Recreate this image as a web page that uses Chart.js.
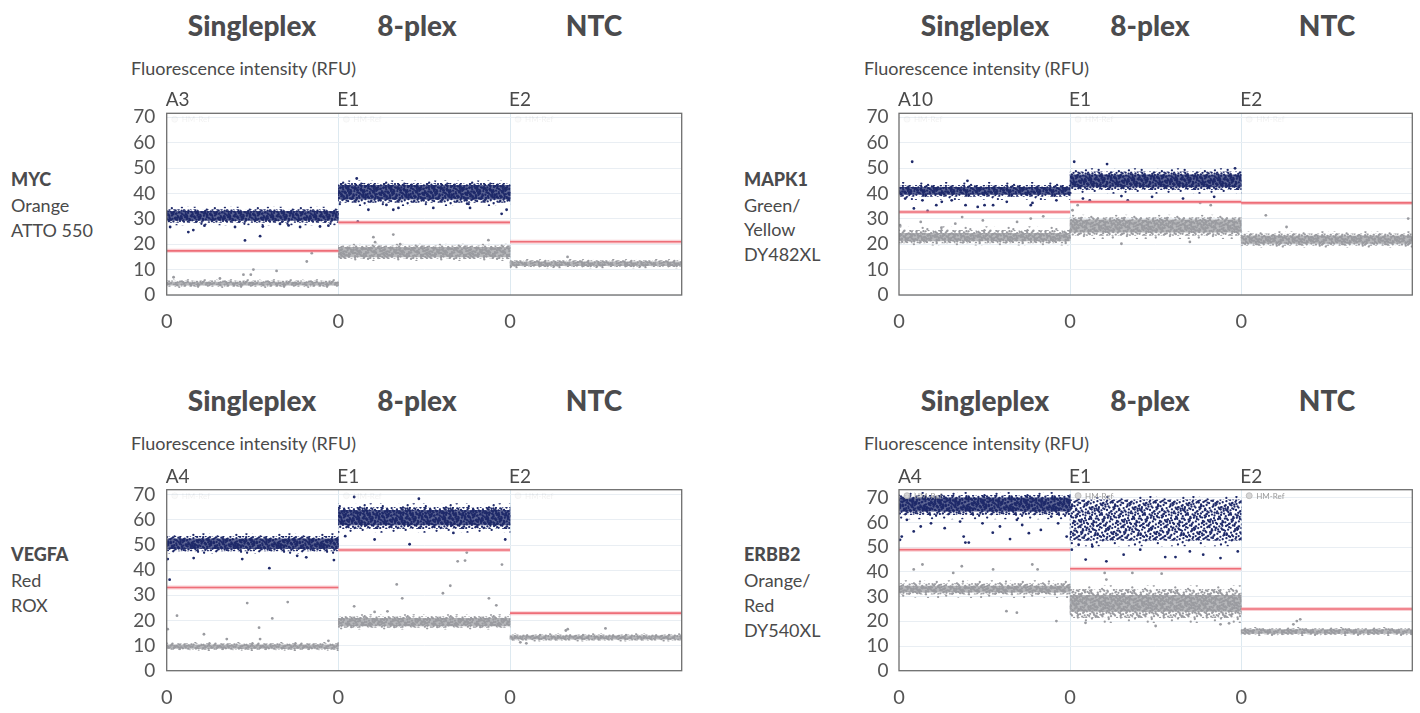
<!DOCTYPE html>
<html>
<head>
<meta charset="utf-8">
<title>Droplet fluorescence – MYC, MAPK1, VEGFA, ERBB2</title>
<script src="https://cdn.jsdelivr.net/npm/chart.js@4.4.1/dist/chart.umd.min.js"></script>
<style>
  html, body { margin: 0; padding: 0; background: #fff; }
  body { width: 1420px; height: 713px; position: relative; overflow: hidden;
         font-family: Lato, "Open Sans", "DejaVu Sans", sans-serif; color: #4a4a4c; }
  .t { position: absolute; white-space: nowrap; line-height: 1; transform: translateY(-50%); }
  .title { font-weight: 900; font-size: 28px; transform: translate(-50%, -50%); color: #4b4b4d; }
  .axis { font-size: 18px; color: #4a4a4a; }
  .well { font-size: 19px; color: #4a4a4a; }
  .gene { font-size: 18px; font-weight: 900; color: #4b4b4d; }
  .dye { font-size: 18px; color: #4a4a4a; }
  canvas { position: absolute; }
</style>
</head>
<body>

<!-- column headings -->
<div class="t title" style="left:252px;top:25px">Singleplex</div>
<div class="t title" style="left:417px;top:25px">8-plex</div>
<div class="t title" style="left:594px;top:25px">NTC</div>
<div class="t title" style="left:985px;top:25px">Singleplex</div>
<div class="t title" style="left:1150px;top:25px">8-plex</div>
<div class="t title" style="left:1327px;top:25px">NTC</div>
<div class="t title" style="left:252px;top:400px">Singleplex</div>
<div class="t title" style="left:417px;top:400px">8-plex</div>
<div class="t title" style="left:594px;top:400px">NTC</div>
<div class="t title" style="left:985px;top:400px">Singleplex</div>
<div class="t title" style="left:1150px;top:400px">8-plex</div>
<div class="t title" style="left:1327px;top:400px">NTC</div>

<!-- axis titles -->
<div class="t axis" style="left:131px;top:68px">Fluorescence intensity (RFU)</div>
<div class="t axis" style="left:864px;top:68px">Fluorescence intensity (RFU)</div>
<div class="t axis" style="left:131px;top:443px">Fluorescence intensity (RFU)</div>
<div class="t axis" style="left:864px;top:443px">Fluorescence intensity (RFU)</div>

<!-- target / channel / dye -->
<div class="t gene" style="left:11px;top:179px">MYC</div>
<div class="t dye" style="left:11px;top:205px">Orange</div>
<div class="t dye" style="left:11px;top:230px">ATTO 550</div>

<div class="t gene" style="left:744px;top:179px">MAPK1</div>
<div class="t dye" style="left:744px;top:205px">Green/</div>
<div class="t dye" style="left:744px;top:229px">Yellow</div>
<div class="t dye" style="left:744px;top:254px">DY482XL</div>

<div class="t gene" style="left:11px;top:554px">VEGFA</div>
<div class="t dye" style="left:11px;top:580px">Red</div>
<div class="t dye" style="left:11px;top:605px">ROX</div>

<div class="t gene" style="left:744px;top:554px">ERBB2</div>
<div class="t dye" style="left:744px;top:580px">Orange/</div>
<div class="t dye" style="left:744px;top:605px">Red</div>
<div class="t dye" style="left:744px;top:630px">DY540XL</div>

<canvas id="myc"></canvas>
<canvas id="mapk1"></canvas>
<canvas id="vegfa"></canvas>
<canvas id="erbb2"></canvas>

<script>
// ---------------------------------------------------------------------------
// Shared axis values
// ---------------------------------------------------------------------------
const RFU_TICKS = [0, 10, 20, 30, 40, 50, 60, 70];
const DROPLET_TICK_LABELS = ['0', '0', '0'];

// Droplet clusters are given per well as density zones (RFU):
// [outerLow, midLow, coreLow, coreHigh, midHigh, outerHigh]; null = no cluster.
// Rain droplets (between/away from the clusters) are [well position, RFU].

// ---------------------------------------------------------------------------
// MYC – Orange – ATTO 550
// ---------------------------------------------------------------------------
const MYC_WELLS = ['A3', 'E1', 'E2'];
const MYC_THRESHOLDS = [17.4, 28.6, 21.0];
const MYC_POSITIVE = [
  [27.6, 28.6, 29.4, 33.0, 33.7, 34.6],
  [35.2, 36.5, 37.8, 43.2, 44.0, 45.0],
  null
];
const MYC_NEGATIVE = [
  [2.9, 3.4, 3.9, 5.1, 5.6, 6.1],
  [13.5, 14.3, 15.0, 18.8, 19.4, 20.1],
  [10.7, 11.2, 11.6, 13.1, 13.6, 14.1]
];
const MYC_POSITIVE_RAIN = [
  [0.02, 26.8], [0.126, 24.8], [0.155, 25.6], [0.22, 27.3], [0.398, 26.8], [0.456, 21.5],
  [0.544, 23.2], [0.56, 27.0], [0.66, 28.0], [0.71, 27.4], [0.777, 26.8], [0.893, 27.0], [0.942, 27.3],
  [1.107, 45.9], [1.113, 28.9], [1.175, 33.6], [1.28, 35.5], [1.32, 33.6], [1.35, 34.3],
  [1.553, 34.3], [1.75, 36.0], [1.767, 34.3], [1.951, 32.0], [1.98, 33.6]
];
const MYC_NEGATIVE_RAIN = [
  [0.04, 7.0], [0.31, 6.5], [0.447, 8.0], [0.49, 8.0], [0.505, 10.0], [0.64, 9.5],
  [0.816, 13.2], [0.845, 16.5],
  [1.204, 22.8], [1.214, 20.8], [1.32, 23.8], [1.36, 20.0], [1.874, 21.6],
  [2.335, 15.0]
];

// ---------------------------------------------------------------------------
// MAPK1 – Green/Yellow – DY482XL
// ---------------------------------------------------------------------------
const MAPK1_WELLS = ['A10', 'E1', 'E2'];
const MAPK1_THRESHOLDS = [32.7, 36.7, 36.3];
const MAPK1_POSITIVE = [
  [37.6, 38.8, 39.6, 42.4, 43.2, 44.4],
  [40.0, 41.5, 42.6, 47.4, 48.5, 49.8],
  null
];
const MAPK1_NEGATIVE = [
  [19.6, 20.5, 21.3, 24.3, 25.5, 27.0],
  [22.2, 23.5, 24.8, 29.6, 30.5, 31.5],
  [18.7, 19.5, 20.3, 23.3, 24.1, 25.0]
];
const MAPK1_POSITIVE_RAIN = [
  [0.036, 38.0], [0.077, 52.5], [0.087, 34.1], [0.137, 37.3], [0.167, 33.1], [0.218, 35.4],
  [0.25, 36.7], [0.308, 37.3], [0.389, 35.4], [0.40, 45.0], [0.46, 34.7], [0.50, 35.4],
  [0.55, 35.4], [0.63, 36.7], [0.77, 35.4], [0.78, 36.3], [0.92, 37.3],
  [1.024, 52.5], [1.075, 38.0], [1.115, 37.3], [1.216, 51.6], [1.30, 39.0], [1.337, 37.3],
  [1.479, 38.7], [1.66, 38.0], [1.842, 38.7], [1.964, 49.9]
];
const MAPK1_NEGATIVE_RAIN = [
  [0.006, 27.5], [0.127, 28.8], [0.248, 26.5], [0.329, 28.1], [0.369, 30.7], [0.49, 29.4],
  [0.69, 28.8], [0.77, 30.1], [0.843, 31.0],
  [1.014, 33.4], [1.044, 35.4], [1.30, 20.2], [1.70, 20.9], [1.76, 36.3], [1.822, 35.4],
  [2.144, 31.4], [2.265, 26.8], [2.976, 30.1]
];

// ---------------------------------------------------------------------------
// VEGFA – Red – ROX
// ---------------------------------------------------------------------------
const VEGFA_WELLS = ['A4', 'E1', 'E2'];
const VEGFA_THRESHOLDS = [33.1, 48.0, 22.9];
const VEGFA_POSITIVE = [
  [46.6, 47.6, 48.5, 52.5, 53.5, 54.5],
  [55.0, 56.5, 58.0, 63.8, 65.0, 66.5],
  null
];
const VEGFA_NEGATIVE = [
  [8.0, 8.5, 8.9, 10.3, 10.8, 11.3],
  [16.5, 17.2, 17.8, 20.8, 21.5, 22.3],
  [11.7, 12.1, 12.5, 13.9, 14.3, 14.8]
];
const VEGFA_POSITIVE_RAIN = [
  [0.006, 44.4], [0.017, 36.2], [0.157, 44.8], [0.44, 44.4], [0.598, 40.8], [0.76, 45.7],
  [0.813, 45.1], [0.974, 44.0],
  [1.04, 53.5], [1.092, 69.1], [1.211, 52.2], [1.415, 50.3], [1.469, 68.4], [1.67, 54.8],
  [1.972, 52.2]
];
const VEGFA_NEGATIVE_RAIN = [
  [0.006, 16.5], [0.06, 21.9], [0.217, 14.5], [0.35, 12.6], [0.469, 26.9], [0.538, 17.1],
  [0.544, 12.6], [0.615, 20.8], [0.705, 27.3], [0.942, 11.9],
  [1.092, 25.6], [1.211, 23.4], [1.286, 23.6], [1.34, 34.3], [1.372, 28.8], [1.609, 30.8],
  [1.652, 33.8], [1.695, 43.5], [1.738, 43.8], [1.748, 47.0], [1.877, 28.8], [1.92, 26.0],
  [1.953, 42.2],
  [2.06, 11.3], [2.095, 10.9], [2.325, 16.0], [2.336, 16.5], [2.556, 16.8]
];

// ---------------------------------------------------------------------------
// ERBB2 – Orange/Red – DY540XL
// ---------------------------------------------------------------------------
const ERBB2_WELLS = ['A4', 'E1', 'E2'];
const ERBB2_THRESHOLDS = [49.0, 41.3, 25.0];
const ERBB2_POSITIVE = [
  [61.5, 63.2, 64.6, 70.0, 71.0, 72.2],
  [50.5, 52.8, 60.0, 60.0, 69.2, 70.6],
  null
];
const ERBB2_NEGATIVE = [
  [29.6, 31.0, 31.8, 34.3, 35.3, 36.5],
  [19.5, 21.5, 24.0, 30.5, 33.0, 34.5],
  [14.2, 14.7, 15.1, 16.7, 17.1, 17.6]
];
const ERBB2_POSITIVE_RAIN = [
  [0.006, 53.0], [0.016, 54.3], [0.046, 61.1], [0.086, 56.4], [0.127, 58.4], [0.187, 59.7],
  [0.267, 57.7], [0.357, 60.4], [0.378, 54.3], [0.388, 51.9], [0.408, 51.9], [0.488, 59.7],
  [0.548, 55.9], [0.59, 58.4], [0.649, 53.3], [0.689, 61.1], [0.72, 59.0], [0.759, 55.7],
  [0.829, 57.0], [0.89, 62.4], [0.93, 59.7], [0.98, 54.3],
  [1.01, 49.0], [1.05, 51.0], [1.091, 45.0], [1.13, 50.3], [1.212, 44.3], [1.313, 47.0],
  [1.41, 49.0], [1.556, 46.0], [1.616, 46.0], [1.70, 48.3], [1.778, 47.0], [1.879, 45.6],
  [1.98, 48.3]
];
const ERBB2_NEGATIVE_RAIN = [
  [0.086, 41.0], [0.137, 43.0], [0.317, 39.6], [0.367, 42.3], [0.55, 41.0], [0.628, 24.1],
  [0.689, 23.5], [0.779, 43.0], [0.81, 41.0], [0.92, 20.1],
  [1.09, 19.4], [1.202, 39.6], [1.212, 36.9], [1.364, 39.6], [1.50, 18.1], [1.535, 39.3],
  [1.879, 18.8], [1.929, 19.2],
  [2.305, 18.8], [2.325, 20.1], [2.345, 20.8]
];

// ---------------------------------------------------------------------------
// Styling
// ---------------------------------------------------------------------------
const NAVY = '#1f2a6a';
const GREY = '#9a9ba0';
const THRESHOLD_CORE = '#ee6e78';
const THRESHOLD_GLOW = 'rgba(244, 150, 160, 0.45)';

Chart.defaults.font.family = 'Lato, "Open Sans", sans-serif';

// Halton sequence, used to scatter the stipple dots evenly inside a texture tile
function halton(i, base) {
  let f = 1, r = 0;
  while (i > 0) { f /= base; r += f * (i % base); i = Math.floor(i / base); }
  return r;
}

// Stippled fill that gives the droplet clouds their grainy look.
function stipple(color, dots, baseAlpha, offset) {
  const w = 43, h = 37;
  const tile = document.createElement('canvas');
  tile.width = w; tile.height = h;
  const g = tile.getContext('2d');
  g.fillStyle = color;
  if (baseAlpha) { g.globalAlpha = baseAlpha; g.fillRect(0, 0, w, h); g.globalAlpha = 1; }
  for (let i = 1; i <= dots; i++) {
    const px = halton(i + offset, 2) * w;
    const py = halton(i + offset, 3) * h;
    // wrap dots that cross the tile edge so the texture repeats seamlessly
    for (const dx of [0, -w, w]) for (const dy of [0, -h, h]) {
      g.beginPath(); g.arc(px + dx, py + dy, 1.15, 0, Math.PI * 2); g.fill();
    }
  }
  return g.createPattern(tile, 'repeat');
}
const FILLS = {
  navy: { outer: stipple(NAVY, 32, 0, 7), mid: stipple(NAVY, 190, 0, 211), core: stipple(NAVY, 170, 0.72, 503) },
  grey: { outer: stipple(GREY, 32, 0, 19), mid: stipple(GREY, 190, 0, 307), core: stipple(GREY, 170, 0.72, 701) }
};

// Canvas placement of each panel (plot frame lands at the given padding/axis sizes).
const PANEL_LAYOUT = {
  myc:   { left: 106, top: 100, width: 584, height: 245, ymax: 71.6, padTop: 13.3, yAxisWidth: 60.7, padRight: 8.3, plotHeight: 181.7, yPad: 11.5 },
  mapk1: { left: 838, top: 100, width: 582, height: 245, ymax: 71.6, padTop: 13.3, yAxisWidth: 61.0, padRight: 7.7, plotHeight: 181.7, yPad: 10.5 },
  vegfa: { left: 106, top: 476, width: 584, height: 237, ymax: 72.0, padTop: 13.7, yAxisWidth: 60.7, padRight: 8.3, plotHeight: 181.0, yPad: 11.5 },
  erbb2: { left: 838, top: 476, width: 582, height: 237, ymax: 73.3, padTop: 13.7, yAxisWidth: 61.0, padRight: 7.7, plotHeight: 181.0, yPad: 10.5 }
};

// ---------------------------------------------------------------------------
// Dataset builders
// ---------------------------------------------------------------------------
function zoneBars(zones, lo, hi) {
  return zones
    .map((z, i) => (z && z[hi] > z[lo]) ? { x: i + 0.5, y: [z[lo], z[hi]] } : null)
    .filter(Boolean);
}
function thresholdSteps(values) {
  const pts = [];
  values.forEach((v, i) => {
    pts.push({ x: i, y: v }, { x: i + 1, y: v });
    if (i < values.length - 1) pts.push({ x: i + 1, y: null });
  });
  return pts;
}
function rainPoints(rain) { return rain.map(([x, y]) => ({ x, y })); }

function clusterDatasets(zones, fills) {
  const bar = (data, bg, order) => ({
    type: 'bar', data, backgroundColor: bg, borderWidth: 0, borderSkipped: false,
    grouped: false, barPercentage: 1, categoryPercentage: 1, order
  });
  return [
    bar(zoneBars(zones, 0, 5), fills.outer, 6),
    bar(zoneBars(zones, 1, 4), fills.mid, 5),
    bar(zoneBars(zones, 2, 3), fills.core, 4)
  ];
}

// Frame round the plot area
const framePlugin = {
  id: 'frame',
  afterDatasetsDraw(chart) {
    const { ctx, chartArea: a } = chart;
    ctx.save();
    ctx.strokeStyle = '#6e6e6e';
    ctx.lineWidth = 1.3;
    ctx.strokeRect(a.left, a.top, a.right - a.left, a.bottom - a.top);
    ctx.restore();
  }
};

// Small per-well legend tag in the top-left corner of each well
const wellTagPlugin = {
  id: 'wellTag',
  afterDatasetsDraw(chart, args, opts) {
    if (!opts || !opts.text) return;
    const { ctx, chartArea: a, scales: { x } } = chart;
    ctx.save();
    ctx.globalAlpha = opts.alpha;
    ctx.font = '8px Lato, sans-serif';
    ctx.textBaseline = 'middle';
    for (let i = 0; i < 3; i++) {
      const px = x.getPixelForValue(i);
      ctx.beginPath();
      ctx.arc(px + 8, a.top + 6, 3, 0, Math.PI * 2);
      ctx.fillStyle = '#d3d3d3'; ctx.fill();
      ctx.strokeStyle = '#b0b0b0'; ctx.lineWidth = 0.8; ctx.stroke();
      ctx.fillStyle = '#8e8e8e';
      ctx.fillText(opts.text, px + 15, a.top + 6.5);
    }
    ctx.restore();
  }
};

function buildPanel(id, wells, thresholds, positive, negative, posRain, negRain, tagAlpha) {
  const L = PANEL_LAYOUT[id];
  const canvas = document.getElementById(id);
  canvas.width = L.width; canvas.height = L.height;
  canvas.style.left = L.left + 'px'; canvas.style.top = L.top + 'px';
  canvas.style.width = L.width + 'px'; canvas.style.height = L.height + 'px';
  const xAxisHeight = L.height - L.padTop - L.plotHeight;

  const datasets = [
    { type: 'line', data: thresholdSteps(thresholds), borderColor: THRESHOLD_CORE, borderWidth: 1.6,
      pointRadius: 0, spanGaps: false, fill: false, order: 0 },
    { type: 'line', data: thresholdSteps(thresholds), borderColor: THRESHOLD_GLOW, borderWidth: 4,
      pointRadius: 0, spanGaps: false, fill: false, order: 1 },
    { type: 'scatter', data: rainPoints(posRain), backgroundColor: NAVY, borderWidth: 0,
      pointRadius: 1.4, order: 2 },
    { type: 'scatter', data: rainPoints(negRain), backgroundColor: GREY, borderWidth: 0,
      pointRadius: 1.4, order: 3 },
    ...clusterDatasets(positive, FILLS.navy),
    ...clusterDatasets(negative, FILLS.grey)
  ];

  const chart = new Chart(canvas, {
    type: 'bar',
    data: { datasets },
    plugins: [framePlugin, wellTagPlugin],
    options: {
      responsive: false,
      animation: false,
      events: [],
      layout: { padding: { top: L.padTop, right: L.padRight, left: 0, bottom: 0 } },
      plugins: {
        legend: { display: false },
        tooltip: { enabled: false },
        wellTag: { text: 'HM-Ref', alpha: tagAlpha }
      },
      scales: {
        x: {
          type: 'linear', min: 0, max: 3, offset: false,
          afterBuildTicks: s => { s.ticks = DROPLET_TICK_LABELS.map((_, i) => ({ value: i })); },
          afterFit: s => { s.height = xAxisHeight; s.paddingLeft = 0; s.paddingRight = 0; },
          ticks: {
            callback: (v, i) => DROPLET_TICK_LABELS[i],
            padding: 15, maxRotation: 0, autoSkip: false,
            font: { size: 20 }, color: '#555'
          },
          grid: {
            offset: false, drawTicks: false, lineWidth: 1,
            color: c => (c.tick && c.tick.value > 0) ? '#dde9f0' : 'rgba(0,0,0,0)'
          },
          border: { display: false }
        },
        y: {
          min: 0, max: L.ymax,
          afterBuildTicks: s => { s.ticks = RFU_TICKS.map(v => ({ value: v })); },
          afterFit: s => { s.width = L.yAxisWidth; s.paddingTop = 0; s.paddingBottom = 0; },
          ticks: { padding: L.yPad, font: { size: 19 }, color: '#555', autoSkip: false },
          grid: { drawTicks: false, color: '#e9eef3', lineWidth: 1 },
          border: { display: false }
        }
      }
    }
  });

  // well names above the plot, placed at the start of each well
  const x = chart.scales.x;
  wells.forEach((name, i) => {
    const el = document.createElement('div');
    el.className = 't well';
    el.textContent = name;
    el.style.left = (L.left + x.getPixelForValue(i) - 1) + 'px';
    el.style.top = (L.top + chart.chartArea.top - 15) + 'px';
    document.body.appendChild(el);
  });
  return chart;
}

buildPanel('myc', MYC_WELLS, MYC_THRESHOLDS, MYC_POSITIVE, MYC_NEGATIVE, MYC_POSITIVE_RAIN, MYC_NEGATIVE_RAIN, 0.12);
buildPanel('mapk1', MAPK1_WELLS, MAPK1_THRESHOLDS, MAPK1_POSITIVE, MAPK1_NEGATIVE, MAPK1_POSITIVE_RAIN, MAPK1_NEGATIVE_RAIN, 0.12);
buildPanel('vegfa', VEGFA_WELLS, VEGFA_THRESHOLDS, VEGFA_POSITIVE, VEGFA_NEGATIVE, VEGFA_POSITIVE_RAIN, VEGFA_NEGATIVE_RAIN, 0.12);
buildPanel('erbb2', ERBB2_WELLS, ERBB2_THRESHOLDS, ERBB2_POSITIVE, ERBB2_NEGATIVE, ERBB2_POSITIVE_RAIN, ERBB2_NEGATIVE_RAIN, 0.9);
</script>
</body>
</html>
